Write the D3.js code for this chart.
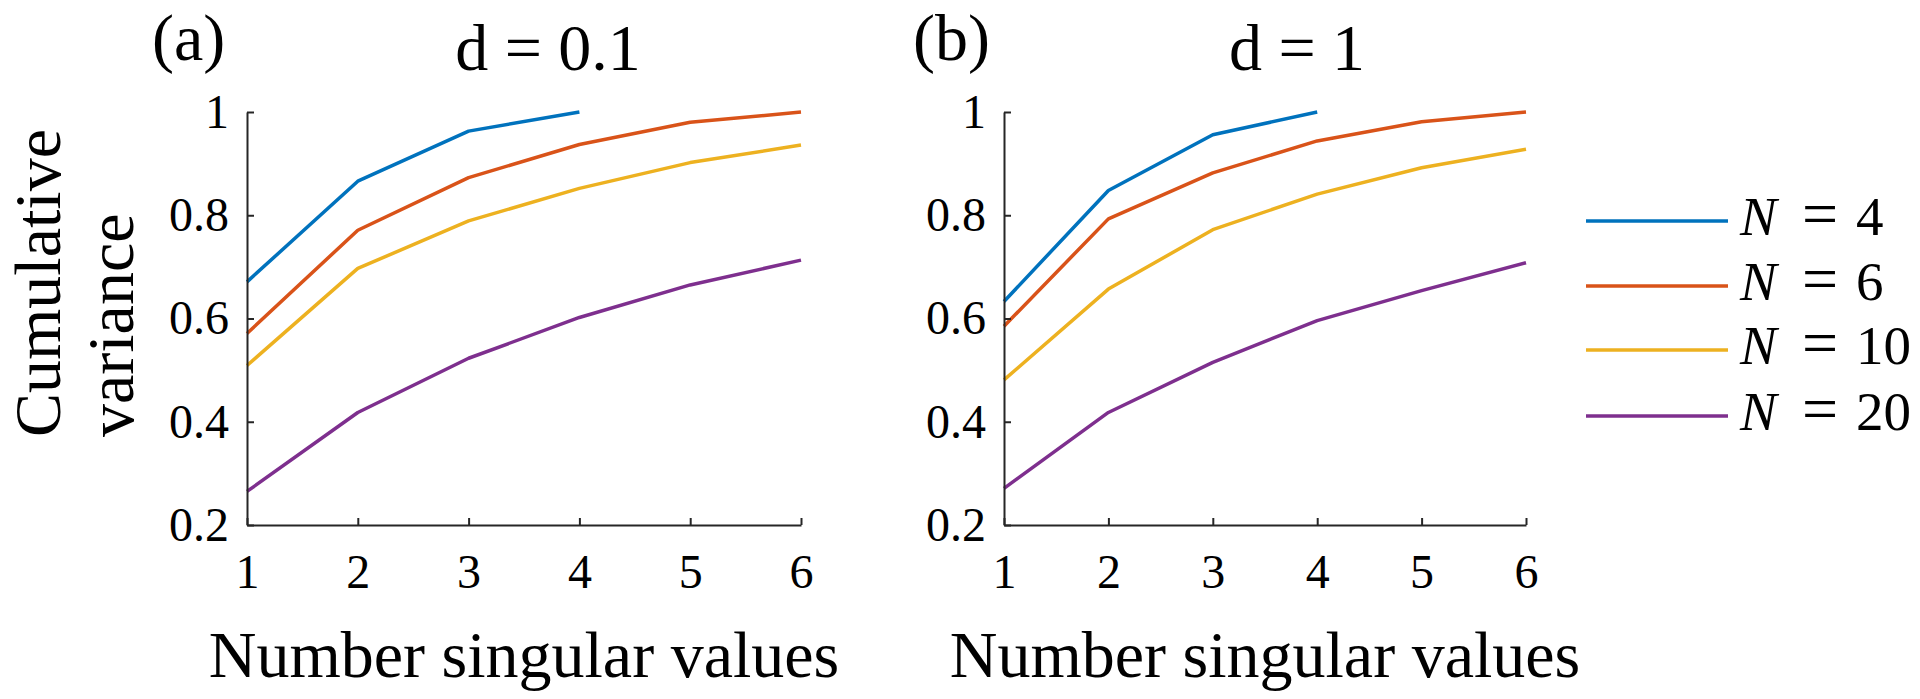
<!DOCTYPE html>
<html>
<head>
<meta charset="utf-8">
<script src="https://cdn.jsdelivr.net/npm/d3@7"></script>
<style>
  html, body { margin: 0; padding: 0; background: #fff; }
  svg { display: block; }
  text { font-family: "Liberation Serif", "Times New Roman", serif; fill: #000; }
</style>
</head>
<body>
<svg id="chart" width="1920" height="699"></svg>
<script>
// ---- data ----
const xValues = [1, 2, 3, 4, 5, 6];
const seriesNames = ["4", "6", "10", "20"];
const seriesColors = ["#0072BD", "#D95319", "#EDB120", "#7E2F8E"];
const xTicks = [1, 2, 3, 4, 5, 6];
const yTicks = [0.2, 0.4, 0.6, 0.8, 1];
const panelTitles = ["d = 0.1", "d = 1"];
const panelLetters = ["(a)", "(b)"];

// panel (a): d = 0.1
const a_N4  = [0.671, 0.866, 0.963, 1.000];
const a_N6  = [0.571, 0.771, 0.873, 0.937, 0.980, 1.000];
const a_N10 = [0.509, 0.697, 0.789, 0.852, 0.902, 0.936];
const a_N20 = [0.265, 0.418, 0.523, 0.602, 0.665, 0.713];
// panel (b): d = 1
const b_N4  = [0.633, 0.848, 0.956, 1.000];
const b_N6  = [0.585, 0.793, 0.882, 0.944, 0.981, 1.000];
const b_N10 = [0.481, 0.657, 0.772, 0.841, 0.892, 0.928];
const b_N20 = [0.271, 0.418, 0.515, 0.596, 0.654, 0.708];

const panelSeries = [
  [a_N4, a_N6, a_N10, a_N20],
  [b_N4, b_N6, b_N10, b_N20]
];

// ---- layout ----
const svg = d3.select("#chart");
const axisColor = "#262626";
const yTop = 112, yBottom = 525;
const panels = [
  { x0: 247, x1: 801, titleX: 548, letterX: 152 },
  { x0: 1004, x1: 1526, titleX: 1297, letterX: 913 }
];

const y = d3.scaleLinear().domain([0.2, 1]).range([yBottom, yTop]);

panels.forEach((p, pi) => {
  const x = d3.scaleLinear().domain([1, 6]).range([p.x0, p.x1]);
  const g = svg.append("g");

  // lines
  const line = d3.line().x((d, i) => x(xValues[i])).y(d => y(d));
  panelSeries[pi].forEach((vals, si) => {
    g.append("path")
      .datum(vals)
      .attr("d", line)
      .attr("fill", "none")
      .attr("stroke", seriesColors[si])
      .attr("stroke-width", 3.5)
      .attr("stroke-linejoin", "round");
  });

  // x axis
  const gx = g.append("g")
    .attr("transform", `translate(0,${yBottom})`)
    .call(d3.axisBottom(x).tickValues(xTicks).tickFormat(d3.format("d"))
      .tickSizeInner(-7).tickSizeOuter(0));
  gx.selectAll("text").attr("y", 63).attr("dy", 0)
    .style("font-size", "48px").style("font-family", "'Liberation Serif', serif").attr("fill", "#000");

  // y axis
  const gy = g.append("g")
    .attr("transform", `translate(${p.x0},0)`)
    .call(d3.axisLeft(y).tickValues(yTicks).tickFormat(d => d === 1 ? "1" : d3.format(".1f")(d))
      .tickSizeInner(-7).tickSizeOuter(0));
  gy.selectAll("text").attr("x", -18).attr("dy", "0.32em")
    .style("font-size", "48px").style("font-family", "'Liberation Serif', serif").attr("fill", "#000");

  [gx, gy].forEach(ax => {
    ax.select(".domain").attr("stroke", axisColor).attr("stroke-width", 2);
    ax.selectAll(".tick line").attr("stroke", axisColor).attr("stroke-width", 2);
  });

  // x label
  g.append("text")
    .attr("x", (p.x0 + p.x1) / 2)
    .attr("y", 677)
    .attr("text-anchor", "middle")
    .style("font-size", "66px")
    .text("Number singular values");

  // title
  g.append("text")
    .attr("x", p.titleX)
    .attr("y", 70)
    .attr("text-anchor", "middle")
    .style("font-size", "66px")
    .text(panelTitles[pi]);

  // panel letter
  g.append("text")
    .attr("x", p.letterX)
    .attr("y", 60)
    .attr("text-anchor", "start")
    .style("font-size", "66px")
    .text(panelLetters[pi]);
});

// y label (two lines, rotated)
const yl = svg.append("text")
  .attr("transform", "translate(60,437) rotate(-90)")
  .attr("text-anchor", "start")
  .style("font-size", "66px");
yl.append("tspan").attr("x", 0).attr("y", 0).text("Cumulative");
yl.append("tspan").attr("x", 0).attr("y", 73).text("variance");

// legend
const legendY = [221, 286, 350, 416];
const lg = svg.append("g");
seriesNames.forEach((name, i) => {
  lg.append("line")
    .attr("x1", 1586).attr("x2", 1728)
    .attr("y1", legendY[i]).attr("y2", legendY[i])
    .attr("stroke", seriesColors[i])
    .attr("stroke-width", 3.5);
  const t = lg.append("text")
    .attr("y", legendY[i] + 14)
    .style("font-size", "55px");
  t.append("tspan").attr("x", 1740).style("font-style", "italic").text("N");
  t.append("tspan").attr("x", 1802).style("font-size", "64px").text("=");
  t.append("tspan").attr("x", 1856).text(name);
});
</script>
</body>
</html>
